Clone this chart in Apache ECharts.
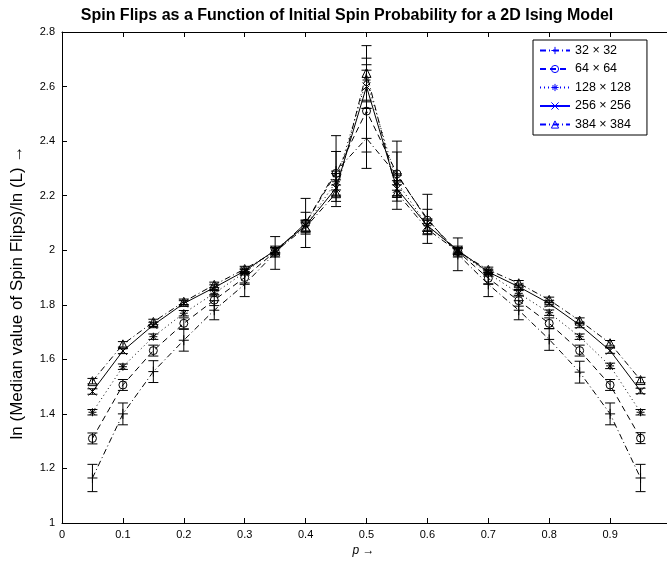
<!DOCTYPE html>
<html>
<head>
<meta charset="utf-8">
<script src="https://cdn.jsdelivr.net/npm/echarts@6/dist/echarts.min.js"></script>
<style>html,body{margin:0;padding:0;background:#fff;}#c{width:667px;height:569px;}</style>
</head>
<body>
<div id="c"></div>
<script>
// Data
const pValues = [0.05,0.1,0.15,0.2,0.25,0.3,0.35,0.4,0.45,0.5,0.55,0.6,0.65,0.7,0.75,0.8,0.85,0.9,0.95];
const seriesNames = ['32 \u00d7 32','64 \u00d7 64','128 \u00d7 128','256 \u00d7 256','384 \u00d7 384'];
const s32  = [1.165,1.40,1.555,1.67,1.78,1.875,1.99,2.10,2.29,2.41,2.275,2.115,1.985,1.875,1.78,1.673,1.553,1.40,1.165];
const e32  = [0.05,0.04,0.04,0.04,0.035,0.045,0.06,0.09,0.13,0.11,0.125,0.09,0.06,0.045,0.035,0.04,0.04,0.04,0.05];
const s64  = [1.31,1.506,1.632,1.732,1.817,1.90,1.995,2.099,2.282,2.51,2.28,2.11,1.995,1.897,1.815,1.732,1.632,1.506,1.311];
const e64  = [0.02,0.02,0.02,0.02,0.02,0.02,0.02,0.04,0.08,0.15,0.08,0.04,0.02,0.02,0.02,0.02,0.02,0.02,0.02];
const s128 = [1.406,1.573,1.683,1.769,1.842,1.919,2.0,2.09,2.251,2.624,2.25,2.09,1.997,1.915,1.842,1.771,1.683,1.576,1.406];
const e128 = [0.01,0.01,0.01,0.01,0.01,0.01,0.01,0.02,0.03,0.08,0.03,0.02,0.01,0.01,0.01,0.01,0.01,0.01,0.01];
const s256 = [1.482,1.631,1.726,1.805,1.863,1.924,2.0,2.09,2.228,2.60,2.225,2.09,2.0,1.92,1.866,1.805,1.726,1.632,1.484];
const e256 = [0.01,0.01,0.01,0.01,0.01,0.01,0.01,0.02,0.03,0.08,0.03,0.02,0.01,0.01,0.01,0.01,0.01,0.01,0.01];
const s384 = [1.52,1.655,1.737,1.811,1.873,1.931,1.995,2.084,2.209,2.65,2.21,2.077,1.995,1.928,1.879,1.818,1.742,1.659,1.524];
const e384 = [0.01,0.01,0.01,0.01,0.01,0.01,0.01,0.02,0.03,0.10,0.03,0.02,0.01,0.01,0.01,0.01,0.01,0.01,0.01];
const xTicks = ['0','0.1','0.2','0.3','0.4','0.5','0.6','0.7','0.8','0.9'];
const yTicks = ['1','1.2','1.4','1.6','1.8','2','2.2','2.4','2.6','2.8'];

const values = [s32,s64,s128,s256,s384];
const errors = [e32,e64,e128,e256,e384];
const symbols = [
  'path://M5,0L5,10M0,5L10,5',
  'circle',
  'path://M5,0L5,10M0,5L10,5M1.6,1.6L8.4,8.4M1.6,8.4L8.4,1.6',
  'path://M0,0L10,10M0,10L10,0',
  'triangle'
];
const symbolSizes = [10,8,8,8,9];
const dashes = [[6,3,1,3],[6,4],[1,3],'solid',[6,3,1,3]];

const FONT = '"Liberation Sans", Arial, Helvetica, sans-serif';
const series = [];
values.forEach((vals, k) => {
  series.push({
    name: 'err' + k,
    type: 'custom',
    data: pValues.map((p,i) => [p, vals[i], errors[k][i]]),
    renderItem: function (params, api) {
      const x = api.value(0), v = api.value(1), e = api.value(2);
      const top = api.coord([x, v + e]);
      const bot = api.coord([x, v - e]);
      const w = 5;
      const st = {stroke: '#000', lineWidth: 1};
      return {type: 'group', children: [
        {type: 'line', shape: {x1: top[0], y1: top[1], x2: bot[0], y2: bot[1]}, style: st},
        {type: 'line', shape: {x1: top[0]-w, y1: top[1], x2: top[0]+w, y2: top[1]}, style: st},
        {type: 'line', shape: {x1: bot[0]-w, y1: bot[1], x2: bot[0]+w, y2: bot[1]}, style: st}
      ]};
    },
    silent: true,
    z: 1
  });
  series.push({
    name: seriesNames[k],
    type: 'line',
    data: pValues.map((p,i) => [p, vals[i]]),
    symbol: symbols[k],
    symbolSize: symbolSizes[k],
    showSymbol: true,
    itemStyle: {color: 'rgba(0,0,0,0)', borderColor: '#000', borderWidth: 1},
    lineStyle: {color: '#000', width: 1, type: dashes[k]},
    animation: false,
    z: 2
  });
});

const xLabel = v => { const i = Math.round(v*10); return i < xTicks.length ? xTicks[i] : ''; };

const chart = echarts.init(document.getElementById('c'), null, {renderer: 'canvas'});
chart.setOption({
  animation: false,
  backgroundColor: '#fff',
  textStyle: {fontFamily: FONT},
  title: {
    text: 'Spin Flips as a Function of Initial Spin Probability for a 2D Ising Model',
    left: 342, top: 3, textAlign: 'center',
    textStyle: {fontFamily: FONT, fontSize: 16, fontWeight: 'bold', color: '#000'}
  },
  legend: {
    orient: 'vertical',
    left: 533, top: 40,
    data: seriesNames,
    itemWidth: 30, itemHeight: 9, itemGap: 5.5,
    padding: [4, 16, 4, 6],
    backgroundColor: '#fff',
    borderColor: '#000', borderWidth: 1, borderRadius: 0,
    textStyle: {fontFamily: FONT, fontSize: 12.5, color: '#000'},
    lineStyle: {color: '#0000ff'},
    itemStyle: {color: 'rgba(0,0,0,0)', borderColor: '#0000ff', borderWidth: 1}
  },
  grid: {left: 62, top: 32, width: 609, height: 491, containLabel: false, outerBoundsMode: 'none'},
  xAxis: [{
    type: 'value', min: 0, max: 1, interval: 0.1,
    name: '{i|p} \u2192', nameLocation: 'middle', nameGap: 22,
    nameTextStyle: {fontFamily: FONT, fontSize: 12, color: '#000', padding: [0, 6, 0, 0], rich: {i: {fontStyle: 'italic', fontFamily: FONT, fontSize: 12}}},
    axisLine: {lineStyle: {color: '#000', width: 1}},
    axisTick: {inside: true, length: 5, lineStyle: {color: '#000'}},
    axisLabel: {color: '#000', fontSize: 11, fontFamily: FONT, margin: 6, formatter: xLabel},
    splitLine: {show: false}
  }, {
    type: 'value', min: 0, max: 1, interval: 0.1, position: 'top',
    axisLine: {show: true, lineStyle: {color: '#000', width: 1}},
    axisTick: {inside: true, length: 5, lineStyle: {color: '#000'}},
    axisLabel: {show: false}, splitLine: {show: false}
  }],
  yAxis: [{
    type: 'value', min: 1, max: 2.8, interval: 0.2,
    name: 'ln (Median value of Spin Flips)/ln (L) \u2192', nameLocation: 'middle', nameGap: 36,
    nameTextStyle: {fontFamily: FONT, fontSize: 17, color: '#000', padding: [0, 30, 0, 0]},
    axisLine: {show: true, lineStyle: {color: '#000', width: 1}},
    axisTick: {inside: true, length: 5, lineStyle: {color: '#000'}},
    axisLabel: {color: '#000', fontSize: 11, fontFamily: FONT, margin: 7,
      formatter: v => yTicks[Math.round((v-1)*5)]},
    splitLine: {show: false}
  }],
  series: series
});
</script>
</body>
</html>
